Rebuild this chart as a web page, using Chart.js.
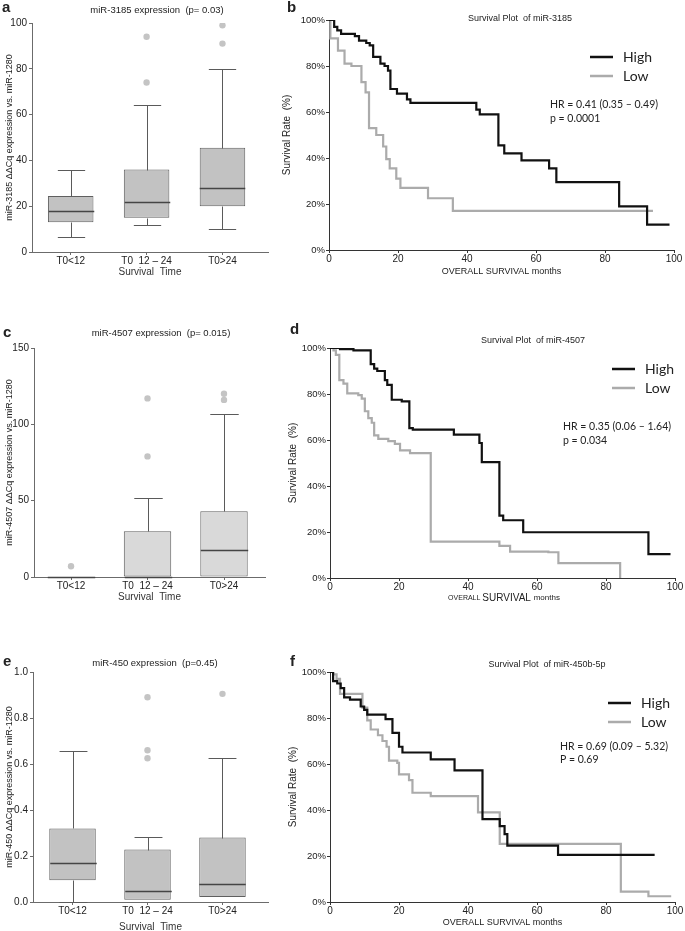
<!DOCTYPE html>
<html>
<head>
<meta charset="utf-8">
<title>miRNA expression and survival</title>
<script src="https://cdn.jsdelivr.net/npm/chart.js@4.4.1/dist/chart.umd.min.js"></script>
<style>
  body { margin: 0; background: #fff; }
  #wrap { position: relative; width: 685px; height: 931px; overflow: hidden; }
  canvas { position: absolute; }
</style>
</head>
<body>
<div id="wrap">
  <canvas id="pa" width="300" height="300" style="left:0;top:0"></canvas>
  <canvas id="pb" width="407" height="300" style="left:278px;top:0"></canvas>
  <canvas id="pc" width="300" height="310" style="left:0;top:300px"></canvas>
  <canvas id="pd" width="407" height="310" style="left:278px;top:300px"></canvas>
  <canvas id="pe" width="300" height="331" style="left:0;top:600px"></canvas>
  <canvas id="pf" width="407" height="331" style="left:278px;top:600px"></canvas>
</div>
<script>
Chart.defaults.font.family = '"Liberation Sans", Arial, sans-serif';
Chart.defaults.color = '#222';

// survival groups (box plots)
const groups = ['T0<12', 'T0  12 – 24', 'T0>24'];

// [lower whisker, Q1, median, Q3, upper whisker] for each group
const stats3185 = [[6.5, 13, 18, 24.5, 36], [12, 15, 22, 36, 64], [10, 20, 28, 45.5, 80]];
const outliers3185 = [[], [74, 94], [91, 99]];

const stats4507 = [[0, 0, 0, 0, 0], [0, 0, 0, 30, 52], [0, 0, 18, 43, 107]];
const outliers4507 = [[7], [79, 117], [116, 120]];

const stats450 = [[0, 0.095, 0.17, 0.32, 0.655], [0.01, 0.01, 0.048, 0.228, 0.283], [0.022, 0.022, 0.08, 0.28, 0.625]];
const outliers450 = [[], [0.625, 0.66, 0.89], [0.905]];

// Kaplan-Meier curves: [months, survival %]
const km3185High = [[0, 100], [1.5, 97], [2.4, 95.5], [3.5, 94], [7.5, 93], [8.7, 91], [10.8, 90], [11.8, 89], [12.8, 84],
  [14.9, 81], [16.1, 80], [17.1, 78], [17.8, 70], [19.7, 68], [22.6, 65.5], [23.6, 64], [42.7, 61], [43.7, 59],
  [49.1, 45.5], [50.8, 42], [55.8, 39], [63.8, 35.5], [65.9, 29.5], [84.1, 19], [92.2, 11], [98.7, 11]];
const km3185Low = [[0, 100], [0.4, 92], [2.6, 86.7], [4.5, 81], [6.5, 80], [9.4, 73], [10.6, 68.5], [11.6, 53],
  [13.7, 50], [15.7, 45], [16.6, 39.5], [17.6, 35.5], [19.5, 31], [20.7, 27], [28.7, 22.5], [35.9, 17], [93.9, 17]];

const km4507High = [[0, 100], [2.9, 99.5], [6.8, 99], [11.8, 93], [12.8, 91], [13.7, 90], [15.9, 86], [16.6, 84],
  [17.9, 77.5], [20.8, 76.8], [23, 65.2], [24, 64.5], [35.9, 62.3], [43.3, 58.7], [44, 50.4], [49.1, 27.1],
  [50.2, 25.1], [56, 19.9], [92.3, 10.4], [98.7, 10.4]];
const km4507Low = [[0, 100], [1, 99], [1.7, 97], [2.7, 86], [3.9, 84.5], [5, 80.3], [8.2, 79.5], [9.2, 78], [10.1, 72.5],
  [11.1, 69.5], [12.1, 67.5], [12.8, 62], [14, 60.5], [16.9, 59.5], [18.8, 58.3], [20.3, 55.5], [23.2, 54.3],
  [29.2, 15.8], [49.1, 14], [52.2, 11.5], [63.3, 11.2], [66.2, 6.5], [84.1, 0]];

const km450High = [[0, 100], [0.9, 96], [2.1, 95], [3.1, 93], [4.1, 89], [5.8, 88], [8.9, 85], [9.9, 83.5], [10.8, 81.5],
  [16.1, 79.5], [18.1, 73.5], [20, 67.5], [21, 65], [29.2, 62], [36.1, 57.2], [44.2, 36], [49.2, 33], [50.6, 29.5],
  [51.4, 24.5], [66.1, 20.5], [94.1, 20.5]];
const km450Low = [[0, 100], [0.9, 99], [1.9, 97], [2.9, 90.5], [9.4, 84.5], [10.8, 79], [11.8, 75], [13.9, 72.5],
  [15.2, 70], [16.4, 67.5], [17.1, 61.5], [19.5, 60.5], [20, 55.5], [22.9, 53], [23.9, 47.5], [29.2, 46], [42.9, 39],
  [49.2, 25.3], [84.3, 4.5], [92.3, 2.5], [98.9, 2.5]];

const FONT = '"Liberation Sans", Arial, sans-serif';
const NOTE_FONT = 'Lato, "Open Sans", sans-serif';

// free text: panel letters, headings, HR annotations
function notesPlugin(items) {
  return {
    id: 'notes',
    afterDraw(chart) {
      const ctx = chart.ctx;
      ctx.save();
      ctx.textBaseline = 'middle';
      items.forEach(n => {
        ctx.fillStyle = n.color || '#222';
        if (n.runs) {
          // mixed font sizes on one line, centered on n.x
          let w = 0;
          n.runs.forEach(r => { ctx.font = r[1]; w += ctx.measureText(r[0]).width; });
          let x = n.x - w / 2;
          ctx.textAlign = 'left';
          n.runs.forEach(r => { ctx.font = r[1]; ctx.fillText(r[0], x, n.y); x += ctx.measureText(r[0]).width; });
        } else {
          ctx.font = n.font;
          ctx.textAlign = n.align || 'left';
          ctx.fillText(n.text, n.x, n.y);
        }
      });
      ctx.restore();
    }
  };
}

// legend drawn inside the plot, from the datasets
function kmLegend(pos) {
  return {
    id: 'kmLegend',
    afterDraw(chart) {
      const ctx = chart.ctx;
      ctx.save();
      ctx.textBaseline = 'middle';
      ctx.font = '14px ' + NOTE_FONT;
      chart.data.datasets.forEach((ds, i) => {
        const y = pos.y + i * pos.gap;
        ctx.strokeStyle = ds.borderColor;
        ctx.lineWidth = 2.5;
        ctx.beginPath();
        ctx.moveTo(pos.x, y);
        ctx.lineTo(pos.x + 23, y);
        ctx.stroke();
        ctx.fillStyle = '#222';
        ctx.fillText(ds.label, pos.x + 33, y);
      });
      ctx.restore();
    }
  };
}

function boxPlot(c) {
  const boxes = c.stats.map((s, i) => ({ x: i + 1, y: [s[1], s[3]] }));
  const dots = [];
  c.outliers.forEach((arr, i) => arr.forEach(v => dots.push({ x: i + 1, y: v })));

  const whiskers = {
    id: 'whiskers',
    afterDatasetsDraw(chart) {
      const { ctx, scales: { y } } = chart;
      const bars = chart.getDatasetMeta(0).data;
      const py = v => Math.round(y.getPixelForValue(v)) + 0.5;
      ctx.save();
      c.stats.forEach((s, i) => {
        const b = bars[i];
        const cx = Math.round(b.x) + 0.5, hw = b.width / 2, cw = b.width * 0.3;
        ctx.strokeStyle = '#5a5a5a';
        ctx.lineWidth = 1;
        ctx.beginPath();
        if (s[4] > s[3]) {
          ctx.moveTo(cx, py(s[3])); ctx.lineTo(cx, py(s[4]));
          ctx.moveTo(cx - cw, py(s[4])); ctx.lineTo(cx + cw, py(s[4]));
        }
        if (s[0] < s[1]) {
          ctx.moveTo(cx, py(s[1])); ctx.lineTo(cx, py(s[0]));
          ctx.moveTo(cx - cw, py(s[0])); ctx.lineTo(cx + cw, py(s[0]));
        }
        ctx.stroke();
        ctx.strokeStyle = '#454545';
        ctx.lineWidth = 1.3;
        ctx.beginPath();
        ctx.moveTo(cx - hw, py(s[2])); ctx.lineTo(cx + hw, py(s[2]));
        ctx.stroke();
      });
      ctx.restore();
    }
  };

  new Chart(document.getElementById(c.id), {
    type: 'bar',
    data: {
      datasets: [{
        data: boxes,
        backgroundColor: c.fill,
        borderColor: '#5f5f5f',
        borderWidth: 1,
        borderSkipped: false,
        barPercentage: c.barPct,
        categoryPercentage: 1
      }, {
        type: 'scatter',
        data: dots,
        pointRadius: 3.2,
        pointBackgroundColor: '#c4c4c4',
        pointBorderWidth: 0
      }]
    },
    options: {
      responsive: false,
      animation: false,
      events: [],
      layout: { padding: c.pad },
      plugins: { legend: { display: false }, tooltip: { enabled: false } },
      scales: {
        x: {
          type: 'linear',
          offset: false,
          min: c.xMin,
          max: c.xMax,
          afterBuildTicks: s => { s.ticks = groups.map((g, i) => ({ value: i + 1 })); },
          afterFit: s => { s.height = c.xh; },
          ticks: { callback: v => groups[v - 1], autoSkip: false, maxRotation: 0, padding: 0, font: { size: 10 }, color: '#222' },
          grid: { drawOnChartArea: false, offset: false, tickLength: 3, color: '#6b6b6b' },
          border: { color: '#6b6b6b' },
          title: { display: true, text: 'Survival  Time', font: { size: 10 }, color: '#333', padding: { top: 0, bottom: c.xtPad } }
        },
        y: {
          min: 0,
          max: c.yMax,
          afterFit: s => { s.width = c.yw; },
          ticks: { stepSize: c.yStep, padding: 2, font: { size: 10 }, color: '#222', callback: v => v.toFixed(c.dec) },
          grid: { drawOnChartArea: false, tickLength: 3, color: '#6b6b6b' },
          border: { color: '#6b6b6b' },
          title: { display: true, text: c.yTitle, font: { size: 9 }, color: '#222', padding: 0 }
        }
      }
    },
    plugins: [whiskers, notesPlugin(c.notes)]
  });
}

function kmPlot(c) {
  const toXY = arr => arr.map(p => ({ x: p[0], y: p[1] }));
  new Chart(document.getElementById(c.id), {
    type: 'line',
    data: {
      datasets: [
        { label: 'High', data: toXY(c.high), borderColor: '#111111', borderWidth: 2.2, stepped: true, pointRadius: 0, fill: false },
        { label: 'Low', data: toXY(c.low), borderColor: '#ababab', borderWidth: 2.2, stepped: true, pointRadius: 0, fill: false }
      ]
    },
    options: {
      responsive: false,
      animation: false,
      events: [],
      layout: { padding: c.pad },
      plugins: { legend: { display: false }, tooltip: { enabled: false } },
      scales: {
        x: {
          type: 'linear',
          min: 0,
          max: 100,
          afterFit: s => { s.height = c.xh; },
          ticks: { stepSize: 20, maxRotation: 0, padding: 0, font: { size: 10 }, color: '#222' },
          grid: { drawOnChartArea: false, tickLength: 3, color: '#333' },
          border: { color: '#333' },
          title: { display: c.xTitle, text: 'OVERALL SURVIVAL months', font: { size: 9 }, color: '#222', padding: { top: 0, bottom: c.xtPad } }
        },
        y: {
          min: 0,
          max: 100,
          afterFit: s => { s.width = c.yw; },
          ticks: { stepSize: 20, padding: 1, font: { size: 9.5 }, color: '#222', callback: v => v + '%' },
          grid: { drawOnChartArea: false, tickLength: 3, color: '#333' },
          border: { color: '#333' },
          title: { display: true, text: 'Survival Rate  (%)', font: { size: 10 }, color: '#222', padding: 0 }
        }
      }
    },
    plugins: [kmLegend(c.legend), notesPlugin(c.notes)]
  });
}

const letter = 'bold 15px ' + FONT;
const head = '9.5px ' + FONT;
const note = '10.5px ' + NOTE_FONT;

boxPlot({
  id: 'pa', stats: stats3185, outliers: outliers3185, fill: '#c2c2c2',
  yMax: 100, yStep: 20, dec: 0, xMin: 0.49, xMax: 3.6, barPct: 0.6,
  pad: { left: 4, top: 23, right: 32, bottom: 22 }, yw: 28, xh: 26, xtPad: 0,
  yTitle: 'miR-3185 ΔΔCq expression vs. miR-1280',
  notes: [
    { text: 'a', x: 2, y: 8, font: letter },
    { text: 'miR-3185 expression  (p= 0.03)', x: 157, y: 10, font: head, align: 'center' }
  ]
});

kmPlot({
  id: 'pb', high: km3185High, low: km3185Low,
  pad: { left: 3, top: 20, right: 11, bottom: 23 }, yw: 48, xh: 27, xTitle: true, xtPad: 0,
  legend: { x: 312, y: 57, gap: 19 },
  notes: [
    { text: 'b', x: 9, y: 8, font: letter },
    { text: 'Survival Plot  of miR-3185', x: 242, y: 19, font: '9px ' + FONT, align: 'center' },
    { text: 'HR = 0.41 (0.35 – 0.49)', x: 272, y: 105, font: note },
    { text: 'p = 0.0001', x: 272, y: 119, font: note }
  ]
});

boxPlot({
  id: 'pc', stats: stats4507, outliers: outliers4507, fill: '#d9d9d9',
  yMax: 150, yStep: 50, dec: 0, xMin: 0.516, xMax: 3.536, barPct: 0.62,
  pad: { left: 4, top: 48, right: 35, bottom: 7 }, yw: 30, xh: 26, xtPad: 0,
  yTitle: 'miR-4507 ΔΔCq expression vs. miR-1280',
  notes: [
    { text: 'c', x: 3, y: 33, font: letter },
    { text: 'miR-4507 expression  (p= 0.015)', x: 161, y: 33, font: head, align: 'center' }
  ]
});

kmPlot({
  id: 'pd', high: km4507High, low: km4507Low,
  pad: { left: 9, top: 48, right: 10, bottom: 6 }, yw: 43, xh: 26, xTitle: false, xtPad: 0,
  legend: { x: 334, y: 69, gap: 19 },
  notes: [
    { text: 'd', x: 12, y: 30, font: letter },
    { text: 'Survival Plot  of miR-4507', x: 255, y: 41, font: '9px ' + FONT, align: 'center' },
    { text: 'HR = 0.35 (0.06 – 1.64)', x: 285, y: 127, font: note },
    { text: 'p = 0.034', x: 285, y: 141, font: note },
    { runs: [['OVERALL ', '7px ' + FONT], ['SURVIVAL ', '10px ' + FONT], ['months', '8px ' + FONT]], x: 226, y: 298 }
  ]
});

boxPlot({
  id: 'pe', stats: stats450, outliers: outliers450, fill: '#c2c2c2',
  yMax: 1, yStep: 0.2, dec: 1, xMin: 0.473, xMax: 3.607, barPct: 0.62,
  pad: { left: 4, top: 72, right: 32, bottom: 0 }, yw: 29, xh: 29, xtPad: -2,
  yTitle: 'miR-450 ΔΔCq expression vs. miR-1280',
  notes: [
    { text: 'e', x: 3, y: 62, font: letter },
    { text: 'miR-450 expression  (p=0.45)', x: 155, y: 63, font: head, align: 'center' }
  ]
});

kmPlot({
  id: 'pf', high: km450High, low: km450Low,
  pad: { left: 9, top: 72, right: 10, bottom: 3 }, yw: 43, xh: 26, xTitle: true, xtPad: 0,
  legend: { x: 330, y: 103, gap: 19 },
  notes: [
    { text: 'f', x: 12, y: 62, font: letter },
    { text: 'Survival Plot  of miR-450b-5p', x: 269, y: 65, font: '9px ' + FONT, align: 'center' },
    { text: 'HR = 0.69 (0.09 – 5.32)', x: 282, y: 147, font: note },
    { text: 'P = 0.69', x: 282, y: 160, font: note }
  ]
});
</script>
</body>
</html>
